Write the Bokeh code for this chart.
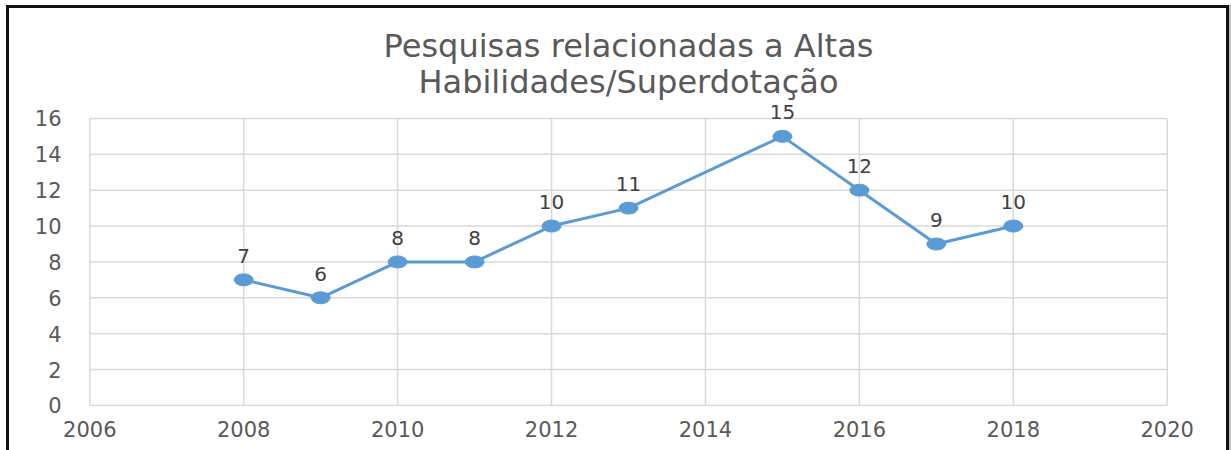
from bokeh.plotting import figure
from bokeh.models import ColumnDataSource, FixedTicker, Range1d, Label, LabelSet
from bokeh.core.properties import value
from bokeh.embed import file_html
from bokeh.resources import INLINE

years = [2008, 2009, 2010, 2011, 2012, 2013, 2015, 2016, 2017, 2018]
counts = [7, 6, 8, 8, 10, 11, 15, 12, 9, 10]
x_ticks = [2006, 2008, 2010, 2012, 2014, 2016, 2018, 2020]
y_ticks = [0, 2, 4, 6, 8, 10, 12, 14, 16]
title_lines = ["Pesquisas relacionadas a Altas", "Habilidades/Superdotação"]

src = ColumnDataSource(dict(x=years, y=counts, lbl=[str(v) for v in counts]))
xg = ColumnDataSource(dict(x=x_ticks))
yg = ColumnDataSource(dict(y=y_ticks))

# frame extends above the value axis so that the data labels and title are not clipped
p = figure(width=1217, height=442, output_backend="svg", toolbar_location=None,
           x_range=Range1d(x_ticks[0] - 0.03, x_ticks[-1] + 0.03),
           y_range=Range1d(y_ticks[0] - 0.06, 21.85),
           min_border_left=78, min_border_right=63, min_border_top=5, min_border_bottom=47)
p.styles = {"margin-left": "6px", "margin-top": "5px", "box-sizing": "content-box",
            "border-top": "3px solid #111111", "border-left": "3px solid #111111",
            "border-right": "3px solid #111111", "box-shadow": "2px 0 0 #bfbfbf"}

p.outline_line_color = None
p.background_fill_color = "white"
p.border_fill_color = "white"
p.xgrid.grid_line_color = None
p.ygrid.grid_line_color = None

for ax in (p.xaxis[0], p.yaxis[0]):
    ax.axis_line_color = None
    ax.major_tick_line_color = None
    ax.minor_tick_line_color = None
    ax.major_label_text_font = "DejaVu Sans"
    ax.major_label_text_font_size = "21px"
    ax.major_label_text_color = "#595959"
p.xaxis.ticker = FixedTicker(ticks=x_ticks)
p.yaxis.ticker = FixedTicker(ticks=y_ticks)
p.xaxis.major_label_standoff = 8
p.yaxis.major_label_standoff = 20

# gridlines limited to the value span 0..16
p.segment(x0="x", y0=y_ticks[0], x1="x", y1=y_ticks[-1], source=xg,
          line_color="#d9d9d9", line_width=1.5)
p.segment(x0=x_ticks[0], y0="y", x1=x_ticks[-1], y1="y", source=yg,
          line_color="#d9d9d9", line_width=1.5)

p.line("x", "y", source=src, line_color="#5b9bd5", line_width=3)
p.ellipse("x", "y", source=src, width=19, height=12, width_units="screen", height_units="screen",
          fill_color="#5b9bd5", line_color="#5b9bd5")
labels = LabelSet(x="x", y="y", text="lbl", source=src, text_align="center", text_baseline="bottom",
                  y_offset=17, text_font=value("DejaVu Sans"), text_font_size="20px",
                  text_color="#404040")
p.add_layout(labels)

x_mid = (x_ticks[0] + x_ticks[-1]) / 2
for txt, ys in zip(title_lines, [361, 325]):
    p.add_layout(Label(x=x_mid, y=ys, y_units="screen", text=txt, text_align="center",
                       text_baseline="alphabetic", text_font="DejaVu Sans",
                       text_font_size="32px", text_color="#595959"))

open("out.html", "w").write(file_html(p, INLINE))
